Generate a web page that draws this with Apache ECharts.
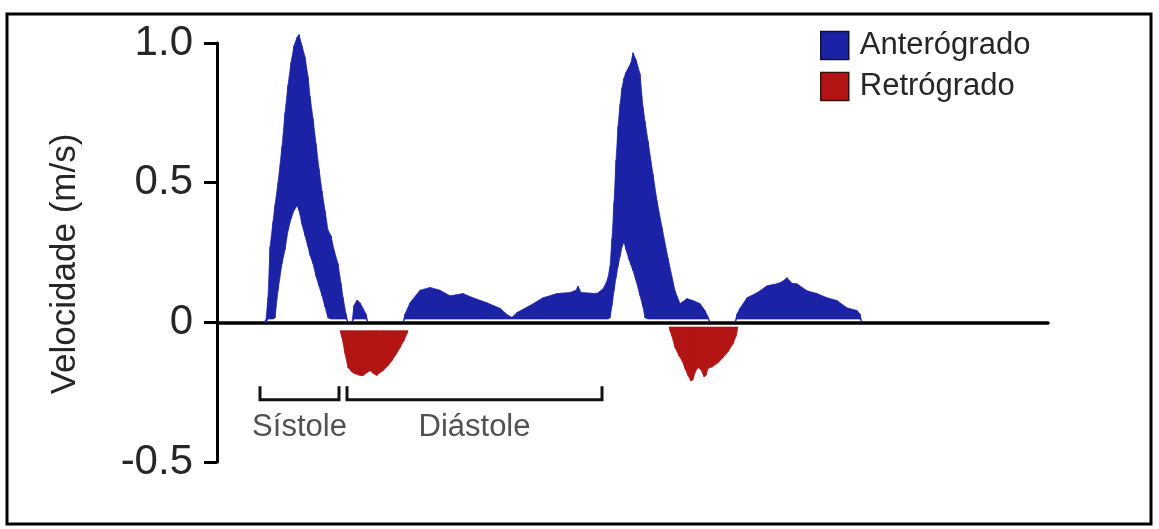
<!DOCTYPE html>
<html>
<head>
<meta charset="utf-8">
<script src="https://cdn.jsdelivr.net/npm/echarts@6/dist/echarts.min.js"></script>
<style>
html,body{margin:0;padding:0;background:#fff;}
#chart{width:1159px;height:529px;}
</style>
</head>
<body>
<div id="chart"></div>
<script>
// ---- data (time in ms, velocity in m/s) ----
const blueTime = [0,94,98,102,106,112,116,122,130,136,142,148,154,160,164,170,176,182,186,192,198,204,210,216,222,228,234,242,248,252,258,262,
  270,274,280,286,292,298,302,
  372,376,386,406,426,446,466,492,512,540,566,582,590,600,626,652,680,706,718,722,728,760,772,
  778,782,786,790,794,798,802,806,810,814,818,824,828,832,838,846,852,856,862,872,880,890,902,916,926,940,952,966,976,982,986,
  1036,1040,1046,1060,1080,1100,1120,1130,1140,1150,1160,1180,1200,1220,1240,1260,1280,1286,1290,1662];
const blueUpper = [0,0,0.01,0.09,0.27,0.36,0.42,0.50,0.63,0.75,0.85,0.93,0.99,1.02,1.03,0.99,0.95,0.88,0.81,0.73,0.64,0.55,0.47,0.40,0.33,0.31,0.26,0.21,0.14,0.09,0.03,0,
  0,0.06,0.08,0.07,0.05,0.03,0,
  0,0.03,0.07,0.115,0.125,0.115,0.095,0.103,0.088,0.07,0.05,0.025,0.018,0.035,0.06,0.088,0.103,0.107,0.115,0.13,0.107,0.103,0.12,
  0.14,0.16,0.20,0.30,0.43,0.58,0.70,0.78,0.84,0.875,0.895,0.915,0.93,0.965,0.94,0.89,0.77,0.72,0.65,0.53,0.435,0.34,0.23,0.113,0.067,0.085,0.078,0.067,0.042,0.02,0,
  0,0.03,0.05,0.088,0.106,0.131,0.138,0.145,0.16,0.14,0.138,0.113,0.103,0.088,0.078,0.052,0.042,0.03,0,0];
const blueLower = [0,0,0,0.012,0.012,0.012,0.016,0.114,0.21,0.26,0.328,0.37,0.40,0.418,0.40,0.35,0.31,0.27,0.24,0.21,0.165,0.13,0.095,0.055,0.016,0.012,0.012,0.012,0.012,0.012,0.012,0,
  0,0.012,0.012,0.012,0.012,0.012,0,
  0,0.012,0.012,0.012,0.012,0.012,0.012,0.012,0.012,0.012,0.012,0.012,0.012,0.012,0.012,0.012,0.012,0.012,0.012,0.012,0.012,0.012,0.012,
  0.012,0.012,0.016,0.06,0.113,0.16,0.20,0.235,0.27,0.288,0.26,0.225,0.205,0.185,0.15,0.095,0.055,0.016,0.012,0.012,0.012,0.012,0.012,0.012,0.012,0.012,0.012,0.012,0.012,0.012,0,
  0,0.012,0.012,0.012,0.012,0.012,0.012,0.012,0.012,0.012,0.012,0.012,0.012,0.012,0.012,0.012,0.012,0.012,0,0];

const redTime = [246,250,256,262,270,276,286,292,300,306,314,320,326,332,342,350,358,366,374,380,382,
  904,906,910,916,924,930,936,942,948,952,956,962,968,974,978,982,990,1002,1012,1022,1032,1038,1042];
const redTop = [-0.03,-0.03,-0.03,-0.03,-0.03,-0.03,-0.03,-0.03,-0.03,-0.03,-0.03,-0.03,-0.03,-0.03,-0.03,-0.03,-0.03,-0.03,-0.03,-0.03,-0.03,
  -0.017,-0.017,-0.017,-0.017,-0.017,-0.017,-0.017,-0.017,-0.017,-0.017,-0.017,-0.017,-0.017,-0.017,-0.017,-0.017,-0.017,-0.017,-0.017,-0.017,-0.017,-0.017,-0.017];
const redBottom = [-0.03,-0.055,-0.112,-0.162,-0.178,-0.184,-0.19,-0.191,-0.18,-0.173,-0.185,-0.19,-0.18,-0.173,-0.155,-0.137,-0.115,-0.091,-0.065,-0.04,-0.03,
  -0.017,-0.03,-0.05,-0.09,-0.12,-0.137,-0.165,-0.19,-0.21,-0.205,-0.18,-0.162,-0.17,-0.195,-0.19,-0.165,-0.16,-0.145,-0.126,-0.105,-0.077,-0.05,-0.017];

const phaseNames = ['Sístole', 'Diástole'];
const phaseStart = [86, 260];
const phaseEnd = [244, 770];

const yTicks = [-0.5, 0, 0.5, 1.0];
const yTickLabels = ['-0.5', '0', '0.5', '1.0'];

const seriesNames = ['Anterógrado', 'Retrógrado'];
// --------------------------------------------

const BLUE = '#1c22a6';
const RED = '#b31414';
const FONT = '"Liberation Sans", Arial, Helvetica, sans-serif';
const TXT = '#262626';

// band series: each data item draws the strip up to the next sample
function bandSeries(name, color, ts, a, b) {
  return {
    type: 'custom', name: name, silent: true, z: 2,
    itemStyle: { color: color },
    data: ts.map((t, i) => [t, a[i], b[i]]),
    encode: { x: 0, y: [1, 2] },
    renderItem: function (params, api) {
      const i = params.dataIndex;
      if (i >= ts.length - 1) return null;
      const t0 = ts[i], t1 = ts[i + 1];
      if (a[i] === b[i] && a[i + 1] === b[i + 1]) return null;
      const pts = [api.coord([t0, b[i]]), api.coord([t0, a[i]]), api.coord([t1, a[i + 1]]), api.coord([t1, b[i + 1]])];
      return { type: 'polygon', shape: { points: pts }, style: { fill: color, stroke: color, lineWidth: 0.7 } };
    }
  };
}

const BR_TOP = -0.234, BR_BOT = -0.277, LBL_Y = -0.376;
const bracketSeries = phaseNames.map((n, i) => ({
  type: 'line', name: '_br' + i, silent: true, symbol: 'none', z: 3,
  data: [[phaseStart[i], BR_TOP], [phaseStart[i], BR_BOT], [phaseEnd[i], BR_BOT], [phaseEnd[i], BR_TOP]],
  lineStyle: { color: '#111', width: 3, cap: 'square', join: 'miter' }
}));
const labelSeries = {
  type: 'scatter', name: '_lbl', silent: true, symbolSize: 0,
  data: phaseNames.map((n, i) => ({ name: n, value: [(phaseStart[i] + phaseEnd[i]) / 2, LBL_Y] })),
  label: { show: true, position: 'inside', formatter: p => p.name, fontSize: 31, color: TXT, fontFamily: FONT }
};

const chart = echarts.init(document.getElementById('chart'), null, { renderer: 'canvas' });
chart.setOption({
  animation: false,
  backgroundColor: '#fff',
  grid: { left: 217, right: 111, top: 43, bottom: 67, containLabel: false },
  xAxis: {
    type: 'value', min: 0, max: 1662,
    axisLine: { show: true, onZero: true, lineStyle: { color: '#000', width: 3.5 } },
    axisTick: { show: false }, axisLabel: { show: false }, splitLine: { show: false }
  },
  yAxis: {
    type: 'value', min: -0.5, max: 1.0, interval: 0.5,
    axisLine: { show: true, lineStyle: { color: '#000', width: 3 } },
    axisTick: { show: true, length: 13, lineStyle: { color: '#000', width: 3 } },
    axisLabel: {
      fontSize: 42, color: TXT, margin: 24, fontFamily: FONT,
      formatter: v => { const k = yTicks.findIndex(t => Math.abs(t - v) < 1e-9); return k >= 0 ? yTickLabels[k] : ''; }
    },
    splitLine: { show: false }
  },
  legend: {
    left: 820, top: 30, orient: 'vertical', itemWidth: 28, itemHeight: 28, itemGap: 10, padding: 0,
    icon: 'rect', selectedMode: false,
    data: [
      { name: seriesNames[0], itemStyle: { color: BLUE, borderColor: '#10103a', borderWidth: 1.5 } },
      { name: seriesNames[1], itemStyle: { color: RED, borderColor: '#3a1010', borderWidth: 1.5 } }
    ],
    textStyle: { fontSize: 31, color: TXT, fontFamily: FONT, padding: [0, 0, 0, 6] }
  },
  graphic: [
    { type: 'rect', shape: { x: 7, y: 14, width: 1144, height: 510 }, style: { fill: 'none', stroke: '#000', lineWidth: 3 }, z: 10, silent: true },
    { type: 'text', x: 65, y: 264, rotation: Math.PI / 2,
      style: { text: 'Velocidade (m/s)', font: '35px ' + FONT, fill: TXT, textAlign: 'center', textVerticalAlign: 'middle' }, silent: true }
  ],
  series: [
    bandSeries(seriesNames[0], BLUE, blueTime, blueUpper, blueLower),
    bandSeries(seriesNames[1], RED, redTime, redTop, redBottom),
    ...bracketSeries,
    labelSeries
  ]
});
</script>
</body>
</html>
